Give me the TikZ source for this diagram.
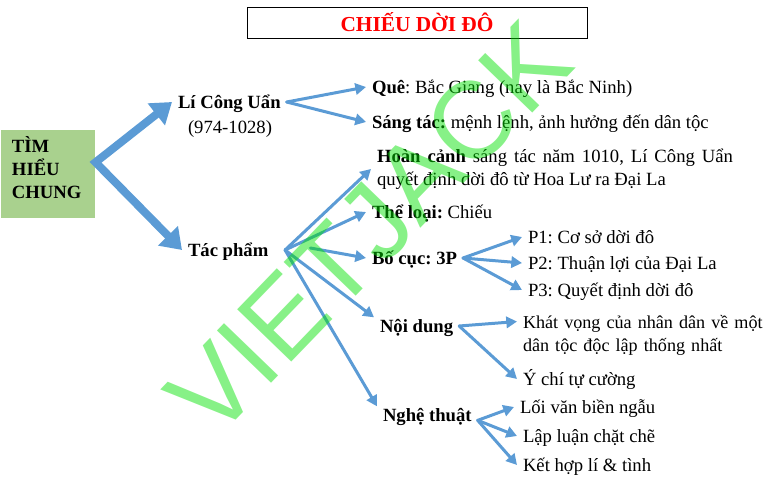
\documentclass[tikz,border=0pt]{standalone}
\usepackage{fontspec}
\setmainfont{Liberation Serif}
\newfontfamily\marksans{Liberation Sans}
\usetikzlibrary{arrows.meta}
\definecolor{linkblue}{RGB}{91,155,213}
\definecolor{rootgreen}{RGB}{169,209,142}
\definecolor{markgreen}{RGB}{0,225,0}
\newcommand\leaffont{\fontsize{14pt}{17.6pt}\selectfont}
\frenchspacing

\tikzset{
  leaf/.style={font=\leaffont, inner sep=0pt, outer xsep=4.5pt, outer ysep=3pt,
    text height=12pt, text depth=3pt, anchor=base west},
  para/.style={font=\leaffont, inner sep=0pt, outer xsep=4.5pt, outer ysep=3pt, anchor=base west},
  link/.style={draw=linkblue, line width=2.25pt, line cap=round, -{Triangle[length=8pt,width=8.5pt]}},
  biglink/.style={draw=linkblue, line width=6pt,
    {Triangle[length=15pt,width=20pt]}-{Triangle[length=15pt,width=20pt]}},
}

\begin{document}
\begin{tikzpicture}[x=0.75pt, y=-0.75pt]
    \useasboundingbox (0,0) rectangle (765,479);

    % title
    \node[draw, line width=0.75pt, minimum width=255pt, minimum height=23.25pt, inner sep=0pt,
      font=\fontsize{16pt}{19pt}\selectfont\bfseries, text=red] (title) at (417,22.5) {CHIẾU DỜI ĐÔ};

    % root box
    \node[fill=rootgreen, minimum width=70.5pt, minimum height=66pt, inner sep=0pt, anchor=north west] (root) at (1,130) {};
    \node[para, font=\leaffont\bfseries, text width=60pt, align=left] (roottext) at (6,152) {TÌM\\HIỂU\\CHUNG};

    % first level
    \node[leaf, font=\leaffont\bfseries] (lcu) at (172,108) {Lí Công Uẩn};
    \node[leaf, anchor=base] (lcuyear) at (230,133) {(974-1028)};
    \node[leaf, font=\leaffont\bfseries] (tp) at (182,256) {Tác phẩm};

    % tác giả
    \node[leaf] (que) at (366,93) {\textbf{Quê}: Bắc Giang (nay là Bắc Ninh)};
    \node[leaf] (sangtac) at (366,128) {\textbf{Sáng tác:} mệnh lệnh, ảnh hưởng đến dân tộc};

    % tác phẩm
    \node[para, text width=267pt, align=justify] (hoancanh) at (371,162)
      {\textbf{Hoàn cảnh} sáng tác năm 1010, Lí Công Uẩn\linebreak quyết định dời đô từ Hoa Lư ra Đại La};
    \node[leaf] (theloai) at (366,218) {\textbf{Thể loại:} Chiếu};
    \node[leaf, font=\leaffont\bfseries] (bocuc) at (366,264) {Bố cục: 3P};
    \node[leaf] (p1) at (522,243) {P1: Cơ sở dời đô};
    \node[leaf] (p2) at (522,269) {P2: Thuận lợi của Đại La};
    \node[leaf] (p3) at (522,296) {P3: Quyết định dời đô};
    \node[leaf, font=\leaffont\bfseries] (noidung) at (374,332) {Nội dung};
    \node[para, font=\fontsize{13.6pt}{17.3pt}\selectfont, text width=225pt] (khatvong) at (517,328)
      {Khát vọng của nhân dân về một\\dân tộc độc lập thống nhất};
    \node[leaf] (ychi) at (517,385) {Ý chí tự cường};
    \node[leaf, font=\leaffont\bfseries] (nghethuat) at (377,421) {Nghệ thuật};
    \node[leaf] (loivan) at (514,413) {Lối văn biền ngẫu};
    \node[leaf] (lapluan) at (517,442) {Lập luận chặt chẽ};
    \node[leaf] (kethop) at (517,471) {Kết hợp lí \& tình};

    % forks
    \coordinate (rootfork) at ([yshift=9pt]root.east);
    \coordinate (tpfork) at ([xshift=8pt]tp.east);
    \coordinate (bcstart) at ([xshift=27pt,yshift=1.5pt]tp.east);
    \coordinate (ntfork) at ([yshift=-4pt]nghethuat.east);

    \draw[biglink] (lcu.west) -- (rootfork) -- (tp.west);

    \draw[link] (lcu.east) -- (que.west);
    \draw[link] (lcu.east) -- (sangtac.west);

    \draw[link] (tpfork) -- (hoancanh.west);
    \draw[link] (tpfork) -- (theloai.west);
    \draw[link] (bcstart) -- (bocuc.west);
    \draw[link] (tpfork) -- ([yshift=-4pt]noidung.north west);
    \draw[link] (tpfork) -- ([yshift=-4pt]nghethuat.north west);

    \draw[link] (bocuc.east) -- (p1.west);
    \draw[link] (bocuc.east) -- (p2.west);
    \draw[link] (bocuc.east) -- (p3.west);

    \draw[link] (noidung.east) -- ([yshift=-8pt]khatvong.north west);
    \draw[link] (noidung.east) -- (ychi.west);

    \draw[link] (ntfork) -- (loivan.west);
    \draw[link] (ntfork) -- (lapluan.west);
    \draw[link] (ntfork) -- (kethop.west);

    % watermark
    \node[anchor=base west, rotate=46, inner sep=0pt, font=\marksans\fontsize{82pt}{82pt}\selectfont,
      text=markgreen, text opacity=0.47] (mark) at (214,443) {VIETJACK};
\end{tikzpicture}
\end{document}
